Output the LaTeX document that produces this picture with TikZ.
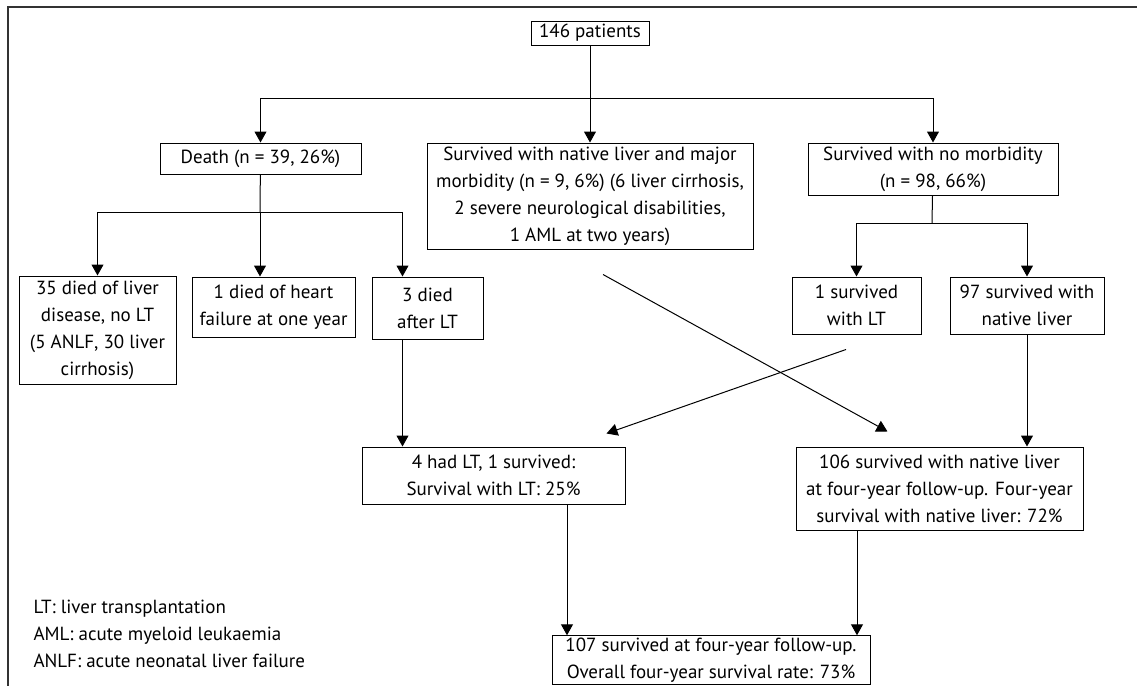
\documentclass[tikz,border=0pt]{standalone}
\usepackage{fontspec}
\setmainfont{PT Sans}
\usetikzlibrary{arrows.meta}

\tikzset{
  box/.style={draw, align=center, inner sep=1pt, font=\fontsize{9.5}{13.5}\selectfont},
  link/.style={-{Triangle[length=5.5pt,width=6pt]}},
}

\begin{document}
\begin{tikzpicture}[x=0.5pt,y=-0.5pt,line width=0.5pt]
  \useasboundingbox (0,0) rectangle (1137,686);
  \draw[line width=1pt, black!80] (8,686) -- (8,7) -- (1137,7);
  \draw
    (590,33) node[box, minimum width=59pt, minimum height=12pt] (top) {146 patients}
    (260.5,158.5) node[box, minimum width=100.5pt, minimum height=15.5pt] (death) {Death (n = 39, 26\%)}
    (590,196) node[box, minimum width=163pt, minimum height=53pt] (mid) {Survived with native liver and major\\morbidity (n = 9, 6\%) (6 liver cirrhosis,\\2 severe neurological disabilities,\\1 AML at two years)}
    (933,169) node[box, minimum width=125pt, minimum height=26pt] (well) {Survived with no morbidity\\(n = 98, 66\%)}
    (97.5,330) node[box, minimum width=78.5pt, minimum height=54pt] (liver) {35 died of liver\\disease, no LT\\(5 ANLF, 30 liver\\cirrhosis)}
    (273.5,307) node[box, minimum width=81.5pt, minimum height=30pt] (heart) {1 died of heart\\failure at one year}
    (427.5,308) node[box, minimum width=55.5pt, minimum height=31pt] (afterlt) {3 died\\after LT}
    (856.5,305.5) node[box, minimum width=64.5pt, minimum height=28.5pt] (withlt) {1 survived\\with LT}
    (1027,305.5) node[box, minimum width=77pt, minimum height=28.5pt] (native) {97 survived with\\native liver}
    (493.5,475.5) node[box, minimum width=131.5pt, minimum height=28.5pt] (hadlt) {4 had LT, 1 survived:\\Survival with LT: 25\%}
    (939.5,488.5) node[box, minimum width=143.5pt, minimum height=41.5pt] (keptliver) {106 survived with native liver\\at four-year follow-up. Four-year\\survival with native liver: 72\%}
    (711,660) node[box, minimum width=159pt, minimum height=24pt] (overall) {107 survived at four-year follow-up.\\Overall four-year survival rate: 73\%}
    (33,634) node[anchor=west, align=left, inner sep=0pt, font=\fontsize{9.5}{13.5}\selectfont] (legend) {LT: liver transplantation\\AML: acute myeloid leukaemia\\ANLF: acute neonatal liver failure};
  \coordinate (split1) at (590,98);
  \coordinate (split2) at (260,212);
  \coordinate (split3) at (932,223);
  \draw (top) -- (split1);
  \draw (death) -- (split2);
  \draw (well) -- (split3);
  \begin{scope}[link]
    \draw (split1) -| (death.north);
    \draw (split1) -- (mid.north);
    \draw (split1) -| (well.north);
    \draw (split2) -| (liver.north);
    \draw (split2) -- (split2 |- heart.north);
    \draw (split2) -| ([xshift=-12.5pt]afterlt.north);
    \draw (split3) -| (withlt.north);
    \draw (split3) -| (native.north);
    \draw ([xshift=-12.5pt]afterlt.south) -- ([xshift=-12.5pt]afterlt.south |- hadlt.north);
    \draw ([shift={(-10.5,15)}]withlt.south) -- ([shift={(-19,-13)}]hadlt.north east);
    \draw ([shift={(13,25)}]mid.south) -- ([shift={(92,-15)}]keptliver.north west);
    \draw (native.south) -- (native.south |- keptliver.north);
    \draw ([xshift=36.75pt]hadlt.south) -- ([xshift=36.75pt]hadlt.south |- overall.north);
    \draw ([xshift=-41.25pt]keptliver.south) -- ([xshift=-41.25pt]keptliver.south |- overall.north);
  \end{scope}
\end{tikzpicture}
\end{document}
